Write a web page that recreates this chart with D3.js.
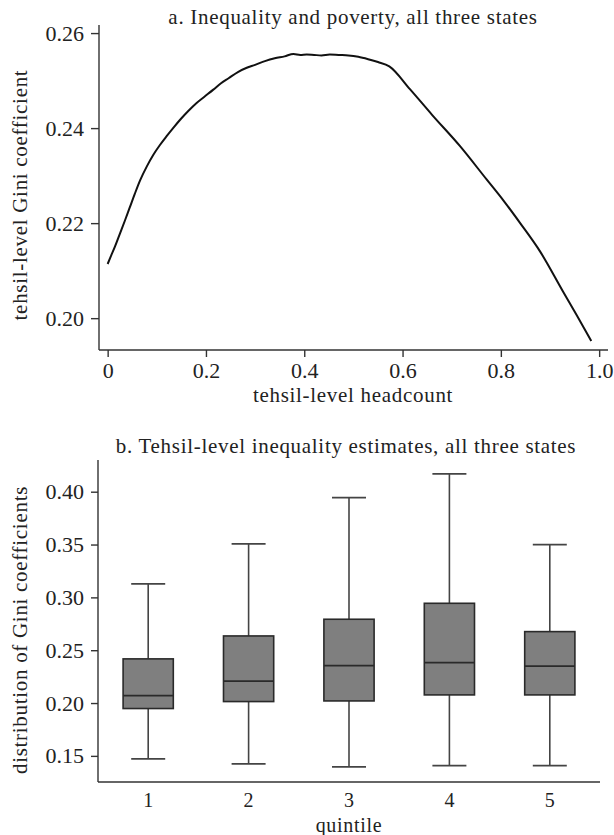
<!DOCTYPE html>
<html><head><meta charset="utf-8">
<script src="https://cdn.jsdelivr.net/npm/d3@7"></script>
<style>
body{margin:0;background:#fff;}
svg text{font-family:"Liberation Serif","Times New Roman",serif;fill:#222;}
</style></head>
<body>
<svg id="c" width="614" height="835"></svg>
<script>
// Panel a: curve
const headcount = [0.000,0.006,0.015,0.025,0.035,0.045,0.055,0.066,0.080,0.093,0.106,0.120,0.134,0.147,0.164,0.181,0.198,0.215,0.230,0.246,0.265,0.283,0.300,0.320,0.340,0.360,0.378,0.392,0.405,0.420,0.435,0.452,0.470,0.490,0.510,0.530,0.550,0.573,0.615,0.660,0.717,0.771,0.805,0.840,0.880,0.927,0.955,0.984];
const gini = [0.2114,0.2129,0.2151,0.2178,0.2205,0.2233,0.2261,0.2290,0.2320,0.2344,0.2364,0.2383,0.2401,0.2417,0.2436,0.2453,0.2467,0.2481,0.2494,0.2505,0.2518,0.2527,0.2533,0.2541,0.2547,0.2551,0.2556,0.2554,0.2555,0.2554,0.2553,0.2555,0.2554,0.2553,0.2550,0.2545,0.2539,0.2530,0.2482,0.2428,0.2362,0.2292,0.2248,0.2199,0.2140,0.2055,0.2005,0.1952];
const xTicksA = [0,0.2,0.4,0.6,0.8,1.0];
const xTickLabelsA = ["0","0.2","0.4","0.6","0.8","1.0"];
const yTicksA = [0.20,0.22,0.24,0.26];

// Panel b: box plots
const quintiles = [1,2,3,4,5];
const whiskerLow = [0.1472,0.1424,0.1396,0.1408,0.1408];
const q1 = [0.1948,0.2014,0.2020,0.2077,0.2077];
const median = [0.2071,0.2207,0.2354,0.2383,0.2349];
const q3 = [0.2418,0.2635,0.2793,0.2944,0.2676];
const whiskerHigh = [0.3127,0.3506,0.3944,0.4168,0.3499];
const yTicksB = [0.15,0.20,0.25,0.30,0.35,0.40];

const svg = d3.select("#c");
const axisColor = "#333";
const tickFont = "22px";
const labelFont = "21px";
const ls = "0.7px";

// ---------- Panel a ----------
const xA = d3.scaleLinear().domain([-0.0176,1.018]).range([99,608]);
const yA = d3.scaleLinear().domain([0.1933,0.2617]).range([350,25]);

const gA = svg.append("g");
const axXA = gA.append("g").attr("transform","translate(0,350)")
  .call(d3.axisBottom(xA).tickValues(xTicksA).tickFormat((d,i)=>xTickLabelsA[i]).tickSizeOuter(0).tickSize(7).tickPadding(5));
const axYA = gA.append("g").attr("transform","translate(99,0)")
  .call(d3.axisLeft(yA).tickValues(yTicksA).tickFormat(d3.format(".2f")).tickSizeOuter(0).tickSize(8).tickPadding(7));
[axXA,axYA].forEach(a=>{
  a.selectAll("path,line").attr("stroke",axisColor).attr("stroke-width",1.4);
  a.selectAll("text").style("font-size",tickFont).attr("fill","#222");
});
axXA.select(".domain").attr("d","M99,0H608");
axYA.select(".domain").attr("d","M0,25V350");

const ptsA = headcount.map((h,i)=>[h,gini[i]]);
gA.append("path").datum(ptsA)
  .attr("fill","none").attr("stroke","#111").attr("stroke-width",2)
  .attr("stroke-linejoin","round")
  .attr("d",d3.line().curve(d3.curveMonotoneX).x(d=>xA(d[0])).y(d=>yA(d[1])));

gA.append("text").attr("x",353).attr("y",24).attr("text-anchor","middle")
  .style("font-size",labelFont).style("letter-spacing",ls).text("a. Inequality and poverty, all three states");
gA.append("text").attr("x",353).attr("y",402).attr("text-anchor","middle")
  .style("font-size",labelFont).style("letter-spacing",ls).text("tehsil-level headcount");
gA.append("text").attr("transform","translate(27,195) rotate(-90)").attr("text-anchor","middle")
  .style("font-size",labelFont).style("letter-spacing",ls).text("tehsil-level Gini coefficient");

// ---------- Panel b ----------
const xB = d3.scaleBand().domain(quintiles).range([98,600]).paddingInner(0.5).paddingOuter(0.25);
const yB = d3.scaleLinear().domain([0.125,0.43]).range([782.3,460]);

const gB = svg.append("g");
const axXB = gB.append("g").attr("transform","translate(0,782)")
  .call(d3.axisBottom(xB).tickSize(0).tickPadding(11).tickSizeOuter(0));
const axYB = gB.append("g").attr("transform","translate(98,0)")
  .call(d3.axisLeft(yB).tickValues(yTicksB).tickFormat(d3.format(".2f")).tickSizeOuter(0).tickSize(7).tickPadding(7));
[axXB,axYB].forEach(a=>{
  a.selectAll("path,line").attr("stroke",axisColor).attr("stroke-width",1.4);
});
axYB.selectAll("text").style("font-size",tickFont).attr("fill","#222");
axXB.selectAll("text").style("font-size","20px").attr("fill","#222");
axXB.select(".domain").attr("d","M98,0H600");
axYB.select(".domain").attr("d","M0,460V782");

const cap = 17;
const boxes = gB.selectAll("g.box").data(quintiles).join("g").attr("class","box");
boxes.each(function(q,i){
  const g = d3.select(this);
  const cx = xB(q) + xB.bandwidth()/2;
  const lc = "#444";
  g.append("line").attr("x1",cx).attr("x2",cx).attr("y1",yB(whiskerHigh[i])).attr("y2",yB(q3[i])).attr("stroke",lc).attr("stroke-width",1.6);
  g.append("line").attr("x1",cx).attr("x2",cx).attr("y1",yB(q1[i])).attr("y2",yB(whiskerLow[i])).attr("stroke",lc).attr("stroke-width",1.6);
  g.append("line").attr("x1",cx-cap).attr("x2",cx+cap).attr("y1",yB(whiskerHigh[i])).attr("y2",yB(whiskerHigh[i])).attr("stroke",lc).attr("stroke-width",1.8);
  g.append("line").attr("x1",cx-cap).attr("x2",cx+cap).attr("y1",yB(whiskerLow[i])).attr("y2",yB(whiskerLow[i])).attr("stroke",lc).attr("stroke-width",1.8);
  g.append("rect").attr("x",xB(q)).attr("width",xB.bandwidth())
    .attr("y",yB(q3[i])).attr("height",yB(q1[i])-yB(q3[i]))
    .attr("fill","#7f7f7f").attr("stroke","#2a2a2a").attr("stroke-width",1.6);
  g.append("line").attr("x1",xB(q)).attr("x2",xB(q)+xB.bandwidth()).attr("y1",yB(median[i])).attr("y2",yB(median[i])).attr("stroke","#2a2a2a").attr("stroke-width",1.8);
});

gB.append("text").attr("x",346).attr("y",453).attr("text-anchor","middle")
  .style("font-size",labelFont).style("letter-spacing",ls).text("b. Tehsil-level inequality estimates, all three states");
gB.append("text").attr("x",349).attr("y",832).attr("text-anchor","middle")
  .style("font-size","20px").style("letter-spacing",ls).text("quintile");
gB.append("text").attr("transform","translate(27,630) rotate(-90)").attr("text-anchor","middle")
  .style("font-size",labelFont).style("letter-spacing",ls).text("distribution of Gini coefficients");
</script>
</body></html>
